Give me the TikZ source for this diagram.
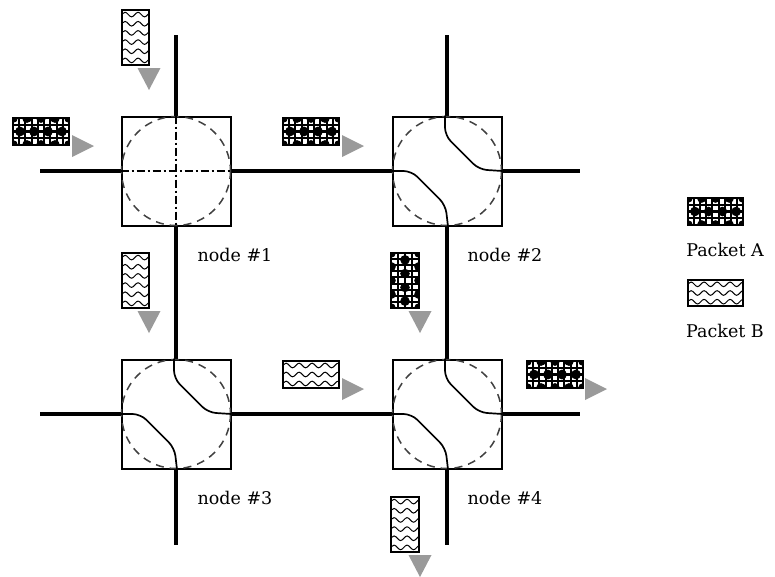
\documentclass[tikz,border=0pt]{standalone}
\usepackage{fontspec}
\setmainfont{DejaVu Serif}
\usetikzlibrary{decorations.pathmorphing}
\definecolor{arrgray}{HTML}{9A9A9A}
\tikzset{
  sw/.style={draw=black,line width=2pt,minimum size=109pt,inner sep=0pt,fill=white},
  wire/.style={line width=3.5pt,black},
  ring/.style={draw=black!75,line width=1.5pt,dash pattern=on 8pt off 6pt},
  xbar/.style={line width=1.7pt,black},
  cross/.style={line width=1.5pt,black,dash pattern=on 8pt off 3pt on 2pt off 3pt},
  lbl/.style={font=\fontsize{17.5}{20}\selectfont,inner sep=0pt},
  tri/.style={fill=arrgray,draw=none},
  pkbox/.style={draw=black,line width=1.4pt}
}
% packet A: x y w h  sqcols sqrows  latx laty
\newcommand\pktA[8]{%
 \begin{scope}[shift={(#1,#2)}]
  \fill[black] (0,0) rectangle (#3,#4);
  \begin{scope}
   \clip (0,0) rectangle (#3,#4);
   \pgfmathsetmacro\pkcw{#3/#5}\pgfmathsetmacro\pkch{#4/#6}
   \foreach \i in {1,...,#5}{\foreach \j in {1,...,#6}{%
       \fill[white] ({(\i-0.84)*\pkcw},{(\j-0.84)*\pkch}) rectangle ({(\i-0.16)*\pkcw},{(\j-0.16)*\pkch});}}
   \pgfmathsetmacro\pkdx{#3/#7}\pgfmathsetmacro\pkdy{#4/#8}
   \pgfmathsetmacro\pkr{0.7*min(\pkdx,\pkdy)}
   \foreach \i in {0,...,#7}{\foreach \j in {0,...,#8}{%
     \pgfmathtruncatemacro\pkq{mod(\i+\j,2)}%
     \ifnum\pkq=0
       \fill[black] ({\i*\pkdx},{\j*\pkdy}) circle (\pkr);
     \fi}}
  \end{scope}
  \draw[pkbox] (0,0) rectangle (#3,#4);
 \end{scope}}
% packet B: x y w h rows
\newcommand\pktB[5]{%
 \begin{scope}[shift={(#1,#2)}]
  \fill[white] (0,0) rectangle (#3,#4);
  \begin{scope}
   \clip (0,0) rectangle (#3,#4);
   \pgfmathsetmacro\pkch{#4/#5}
   \foreach \j in {1,...,#5}{%
     \draw[line width=1pt,decorate,decoration={snake,segment length=13pt,amplitude=2.3pt}]
       (-1,{(\j-0.5)*\pkch}) -- ({#3+14},{(\j-0.5)*\pkch});}
  \end{scope}
  \draw[pkbox] (0,0) rectangle (#3,#4);
 \end{scope}}
\newcommand\tridn[2]{\fill[tri] ({#1-11.5},#2) -- ({#1+11.5},#2) -- (#1,{#2+22}) -- cycle;}
\newcommand\trirt[2]{\fill[tri] (#1,{#2-11}) -- (#1,{#2+11}) -- ({#1+22},#2) -- cycle;}
\begin{document}
\begin{tikzpicture}[x=1pt,y=-1pt]
\useasboundingbox (0,0) rectangle (775,576);
\fill[white] (0,0) rectangle (775,576);
% switch nodes
\node[sw] (n1) at (176,171) {};
\node[sw] (n2) at (447,171) {};
\node[sw] (n3) at (176,414) {};
\node[sw] (n4) at (447,414) {};
% wire end points
\coordinate (l1) at (40,171);
\coordinate (r1) at (580,171);
\coordinate (l2) at (40,414);
\coordinate (r2) at (580,414);
\coordinate (t1) at (176,35);
\coordinate (t2) at (447,35);
\coordinate (b1) at (176,545);
\coordinate (b2) at (447,545);
\draw[wire] (l1) -- (n1.west);
\draw[wire] (n1.east) -- (n2.west);
\draw[wire] (n2.east) -- (r1);
\draw[wire] (l2) -- (n3.west);
\draw[wire] (n3.east) -- (n4.west);
\draw[wire] (n4.east) -- (r2);
\draw[wire] (t1) -- (n1.north);
\draw[wire] (n1.south) -- (n3.north);
\draw[wire] (n3.south) -- (b1);
\draw[wire] (t2) -- (n2.north);
\draw[wire] (n2.south) -- (n4.north);
\draw[wire] (n4.south) -- (b2);
% node 1 interior
\draw[ring] (n1.center) circle (54.5);
\draw[cross] (n1.west) -- (n1.east);
\draw[cross] (n1.north) -- (n1.south);
% nodes 2..4 interior
\foreach \n in {n2,n3,n4}{
  \draw[ring] (\n.center) circle (54.5);
  \draw[xbar,rounded corners=8pt] ([xshift=-2pt]\n.north) -- ++(0,20) -- ++(34,34) -- (\n.east);
  \draw[xbar,rounded corners=8pt] (\n.west) -- ++(20,0) -- ++(34,34) -- ([xshift=1pt]\n.south);
}
% labels
\node[lbl] (lab1) at (235,255) {node \#1};
\node[lbl] (lab2) at (505,255) {node \#2};
\node[lbl] (lab3) at (235,498) {node \#3};
\node[lbl] (lab4) at (505,498) {node \#4};
% packets and arrows
\pktB{122}{10}{27}{55}{6}  \tridn{149}{68}
\pktA{13}{118}{56}{27}{9}{4}{8}{2} \trirt{72}{146}
\pktA{283}{118}{56}{27}{9}{4}{8}{2} \trirt{342}{146}
\pktB{122}{253}{27}{55}{6} \tridn{149}{311}
\pktA{391}{253}{28}{55}{4}{9}{2}{8} \tridn{420}{311}
\pktB{283}{361}{56}{27}{3} \trirt{342}{389}
\pktA{527}{361}{56}{27}{9}{4}{8}{2} \trirt{585}{389}
\pktB{391}{497}{28}{55}{6} \tridn{420}{555}
% legend
\pktA{688}{198}{55}{27}{9}{4}{8}{2}
\node[lbl] (legA) at (725,250) {Packet A};
\pktB{688}{280}{55}{26}{3}
\node[lbl] (legB) at (725,331) {Packet B};
\end{tikzpicture}
\end{document}
